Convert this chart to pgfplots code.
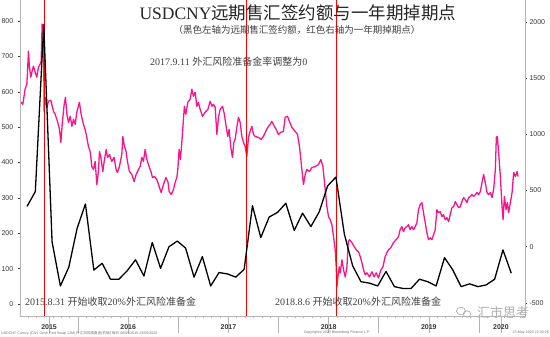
\documentclass[border=0pt]{standalone}
\usepackage{pgfplots}
\pgfplotsset{compat=1.18}
\usepackage{fontspec}
\setmainfont{Liberation Serif}
\setsansfont{Liberation Sans}
\newfontfamily\cjk{Noto Sans CJK SC}
\definecolor{pinkline}{RGB}{250,20,140}
\definecolor{redline}{RGB}{255,0,0}
\definecolor{axgrey}{RGB}{180,180,180}
\definecolor{labgrey}{RGB}{55,55,55}
\definecolor{wmgrey}{RGB}{175,175,175}
\begin{document}
\begin{tikzpicture}[x=1pt,y=1pt]
\useasboundingbox (0,0) rectangle (550,337);
\fill[white] (0,0) rectangle (550,337);
% ---- pink series, right axis ----
\begin{axis}[at={(20pt,21pt)}, anchor=south west, scale only axis,
  width=505pt, height=316pt,
  xmin=2015.42, xmax=2020.46, ymin=-616, ymax=2196,
  axis x line=none, axis y line*=right,
  y axis line style={axgrey, line width=0.8pt},
  ytick={-500,0,500,1000,1500,2000},
  tick align=outside, major tick length=2pt,
  ytick style={labgrey, line width=0.6pt},
  yticklabel style={font=\sffamily\fontsize{7}{8}\selectfont, text=labgrey, xshift=-1pt},
  unbounded coords=jump,
  /pgf/number format/assume math mode=true, /pgf/number format/1000 sep={}]
\addplot[draw=pinkline, line width=1.3pt, line join=round, mark=none] coordinates {
(2015.421,1295) (2015.448,1268) (2015.471,1402) (2015.488,1447) (2015.494,1536) (2015.504,1741) (2015.514,1598) (2015.528,1509) (2015.541,1563) (2015.554,1607) (2015.571,1554) (2015.588,1509) (2015.604,1598) (2015.621,1625) (2015.631,1652) (2015.641,1982) (2015.654,1956) (2015.661,1206) (2015.671,1331) (2015.688,1241) (2015.704,1295) (2015.728,1304) (2015.754,1206) (2015.771,1179) (2015.794,1116) (2015.814,1045) (2015.828,929) (2015.841,1089) (2015.861,1268) (2015.874,1331) (2015.888,1179) (2015.904,1107) (2015.921,1161) (2015.938,1072) (2015.954,1134) (2015.971,1089) (2015.987,1197) (2016.013,1286) (2016.030,1179) (2016.053,1089) (2016.070,1045) (2016.087,973) (2016.103,893) (2016.120,848) (2016.137,714) (2016.153,688) (2016.170,759) (2016.187,554) (2016.203,670) (2016.213,848) (2016.227,795) (2016.247,670) (2016.260,759) (2016.280,866) (2016.293,795) (2016.313,822) (2016.336,759) (2016.359,795) (2016.379,688) (2016.392,661) (2016.412,714) (2016.436,822) (2016.446,982) (2016.462,893) (2016.479,848) (2016.492,759) (2016.512,670) (2016.536,643) (2016.559,580) (2016.579,643) (2016.602,688) (2016.619,714) (2016.636,795) (2016.652,759) (2016.669,866) (2016.686,777) (2016.709,714) (2016.729,661) (2016.742,616) (2016.762,625) (2016.786,598) (2016.809,536) (2016.829,482) (2016.852,554) (2016.876,616) (2016.896,580) (2016.909,491) (2016.929,464) (2016.952,509) (2016.968,572) (2016.985,616) (2016.995,688) (2017.008,866) (2017.021,777) (2017.035,929) (2017.051,1134) (2017.061,1250) (2017.075,1179) (2017.095,1286) (2017.118,1313) (2017.135,1402) (2017.151,1340) (2017.168,1375) (2017.185,1250) (2017.201,1286) (2017.218,1223) (2017.241,1161) (2017.268,1197) (2017.295,1223) (2017.318,1295) (2017.335,1250) (2017.351,1268) (2017.368,1241) (2017.385,1000) (2017.401,1152) (2017.418,1223) (2017.441,1250) (2017.460,1179) (2017.477,1072) (2017.494,982) (2017.507,1045) (2017.524,884) (2017.540,795) (2017.554,929) (2017.567,956) (2017.584,1063) (2017.600,1152) (2017.617,1107) (2017.634,982) (2017.650,929) (2017.667,893) (2017.684,804) (2017.700,973) (2017.717,1027) (2017.734,1072) (2017.750,1000) (2017.767,982) (2017.800,973) (2017.826,956) (2017.849,982) (2017.873,1027) (2017.893,1063) (2017.916,1089) (2017.933,1116) (2017.949,1089) (2017.976,1045) (2017.999,1000) (2018.023,1018) (2018.049,1027) (2018.066,1152) (2018.089,1161) (2018.109,1116) (2018.133,1063) (2018.166,1027) (2018.189,1000) (2018.209,893) (2018.223,777) (2018.236,661) (2018.249,554) (2018.266,643) (2018.283,688) (2018.309,670) (2018.333,705) (2018.366,714) (2018.399,732) (2018.423,777) (2018.443,714) (2018.456,598) (2018.469,482) (2018.483,357) (2018.499,268) (2018.516,241) (2018.533,196) (2018.549,89) (2018.566,-27) (2018.576,-179) (2018.583,-357) (2018.593,-268) (2018.606,-179) (2018.616,-232) (2018.633,-116) (2018.649,-205) (2018.666,-268) (2018.683,-179) (2018.696,45) (2018.709,63) (2018.733,36) (2018.756,0) (2018.776,-27) (2018.799,-45) (2018.816,-89) (2018.833,-143) (2018.849,-205) (2018.866,-250) (2018.882,-232) (2018.908,-268) (2018.932,-223) (2018.955,-268) (2018.975,-232) (2018.998,-277) (2019.022,-205) (2019.042,-179) (2019.064,-89) (2019.081,-54) (2019.097,-27) (2019.121,-9) (2019.147,36) (2019.174,63) (2019.197,89) (2019.214,152) (2019.231,179) (2019.247,134) (2019.264,170) (2019.281,179) (2019.297,196) (2019.314,152) (2019.331,179) (2019.347,152) (2019.364,179) (2019.381,214) (2019.397,330) (2019.414,375) (2019.431,393) (2019.447,304) (2019.464,214) (2019.481,125) (2019.497,63) (2019.514,80) (2019.531,63) (2019.547,107) (2019.564,152) (2019.581,330) (2019.597,304) (2019.614,313) (2019.631,268) (2019.647,286) (2019.664,241) (2019.681,259) (2019.697,223) (2019.714,286) (2019.731,348) (2019.747,357) (2019.764,402) (2019.781,375) (2019.797,348) (2019.814,357) (2019.831,402) (2019.847,438) (2019.864,420) (2019.881,393) (2019.897,438) (2019.914,447) (2019.931,464) (2019.947,447) (2019.964,464) (2019.981,482) (2019.997,464) (2020.014,491) (2020.031,572) (2020.047,643) (2020.064,572) (2020.081,482) (2020.097,464) (2020.114,482) (2020.131,438) (2020.147,509) (2020.164,688) (2020.174,973) (2020.184,982) (2020.197,839) (2020.214,625) (2020.231,357) (2020.241,241) (2020.254,447) (2020.271,330) (2020.284,393) (2020.297,304) (2020.314,393) (2020.331,482) (2020.347,661) (2020.364,625) (2020.381,670) (2020.391,625)
};
\addplot[draw=redline, line width=1.25pt, mark=none] coordinates {(2015.661,-616) (2015.661,2196) (2015.661,nan) (2017.682,-616) (2017.682,2196) (2017.682,nan) (2018.582,-616) (2018.582,2196)};
\end{axis}
% ---- black series, left axis ----
\begin{axis}[at={(20pt,21pt)}, anchor=south west, scale only axis,
  width=505pt, height=316pt,
  xmin=2015.42, xmax=2020.46, ymin=-34, ymax=860,
  axis x line*=bottom, axis y line*=left,
  y axis line style={axgrey, line width=0.8pt},
  x axis line style={axgrey, line width=0.5pt},
  ytick={0,100,...,800},
  tick align=outside,
  ytick style={labgrey, line width=0.6pt, /pgfplots/major tick length=2pt},
  yticklabel style={font=\sffamily\fontsize{7}{8}\selectfont, text=labgrey, xshift=1pt},
  xtick={2016,2017,2018,2019,2020}, xticklabels={},
  xtick style={axgrey, line width=0.6pt, /pgfplots/major tick length=17pt},
  minor xtick={2015.5,2015.5833,2015.6667,2015.75,2015.8333,2015.9167,2016.0833,2016.1667,2016.25,2016.3333,2016.4167,2016.5,2016.5833,2016.6667,2016.75,2016.8333,2016.9167,2017.0833,2017.1667,2017.25,2017.3333,2017.4167,2017.5,2017.5833,2017.6667,2017.75,2017.8333,2017.9167,2018.0833,2018.1667,2018.25,2018.3333,2018.4167,2018.5,2018.5833,2018.6667,2018.75,2018.8333,2018.9167,2019.0833,2019.1667,2019.25,2019.3333,2019.4167,2019.5,2019.5833,2019.6667,2019.75,2019.8333,2019.9167,2020.0833,2020.1667,2020.25,2020.3333,2020.4167},
  minor tick length=2.5pt,
  minor x tick style={axgrey, line width=0.6pt},
  extra x ticks={2015.71,2016.5,2017.5,2018.5,2019.5,2020.22},
  extra x tick labels={2015,2016,2017,2018,2019,2020},
  extra x tick style={/pgfplots/major tick length=0pt, draw=none,
     tick label style={font=\sffamily\bfseries\fontsize{7}{8}\selectfont, text=labgrey, yshift=-5pt}},
  /pgf/number format/assume math mode=true, /pgf/number format/1000 sep={}]
\addplot[draw=black, line width=1.3pt, line join=round, mark=none] coordinates {
(2015.490,276) (2015.573,318) (2015.657,790) (2015.740,176) (2015.823,51) (2015.907,104) (2015.990,214) (2016.073,283) (2016.157,96) (2016.240,115) (2016.323,70) (2016.407,70) (2016.490,94) (2016.573,125) (2016.657,79) (2016.740,174) (2016.823,101) (2016.907,162) (2016.990,178) (2017.073,158) (2017.157,76) (2017.240,134) (2017.323,51) (2017.407,89) (2017.490,85) (2017.573,76) (2017.657,98) (2017.740,278) (2017.823,188) (2017.907,246) (2017.990,259) (2018.073,285) (2018.157,208) (2018.240,257) (2018.323,219) (2018.407,261) (2018.490,334) (2018.573,359) (2018.657,198) (2018.740,108) (2018.823,63) (2018.907,59) (2018.990,51) (2019.073,92) (2019.157,49) (2019.240,44) (2019.323,44) (2019.407,70) (2019.490,63) (2019.573,51) (2019.657,131) (2019.740,96) (2019.823,49) (2019.907,57) (2019.990,49) (2020.073,54) (2020.157,70) (2020.240,153) (2020.323,87)
};
\end{axis}
% ---- texts ----
\node[font=\fontsize{17.5}{19}\selectfont, text=black!85] at (298,324) {USDCNY{\cjk 远期售汇签约额与一年期掉期点}};
\node[font=\fontsize{9.5}{11}\selectfont, text=black!75] at (297,307) {{\cjk （黑色左轴为远期售汇签约额，红色右轴为一年期掉期点）}};
\node[font=\fontsize{10}{12}\selectfont, text=black!75, anchor=west, inner sep=0pt] at (150,275) {2017.9.11 {\cjk 外汇风险准备金率调整为}0};
\node[font=\fontsize{10}{12}\selectfont, text=black!75, anchor=west, inner sep=0pt] at (25,35) {2015.8.31 {\cjk 开始收取}20\%{\cjk 外汇风险准备金}};
\node[font=\fontsize{10}{12}\selectfont, text=black!75, anchor=west, inner sep=0pt] at (275,35) {2018.8.6 {\cjk 开始收取}20\%{\cjk 外汇风险准备金}};
% watermark
\draw[wmgrey, line width=0.7pt] (461,26) ellipse (4.5pt and 3.8pt);
\draw[wmgrey, line width=0.7pt] (467,23) ellipse (3.8pt and 3.2pt);
\node[font=\fontsize{13}{14}\selectfont, text=wmgrey, anchor=west, inner sep=0pt] at (477,25) {{\cjk 汇市思考}};
% source line
\node[font=\sffamily\fontsize{3.6}{4}\selectfont, text=black!55, anchor=west, inner sep=0pt] at (1,4) {USDCNY Curncy (CNY Onsh Fwd Swap 12M) {\cjk 外汇风险准备金(右轴)}  {\cjk 每日} 06/09/2015-23/05/2020};
\node[font=\sffamily\fontsize{3.6}{4}\selectfont, text=black!55, inner sep=0pt] at (337,4) {Copyright\textcopyright{} 2020 Bloomberg Finance L.P.};
\node[font=\sffamily\fontsize{3.6}{4}\selectfont, text=black!55, anchor=east, inner sep=0pt] at (549,4) {23-May-2020 22:30:26};
\end{tikzpicture}
\end{document}
